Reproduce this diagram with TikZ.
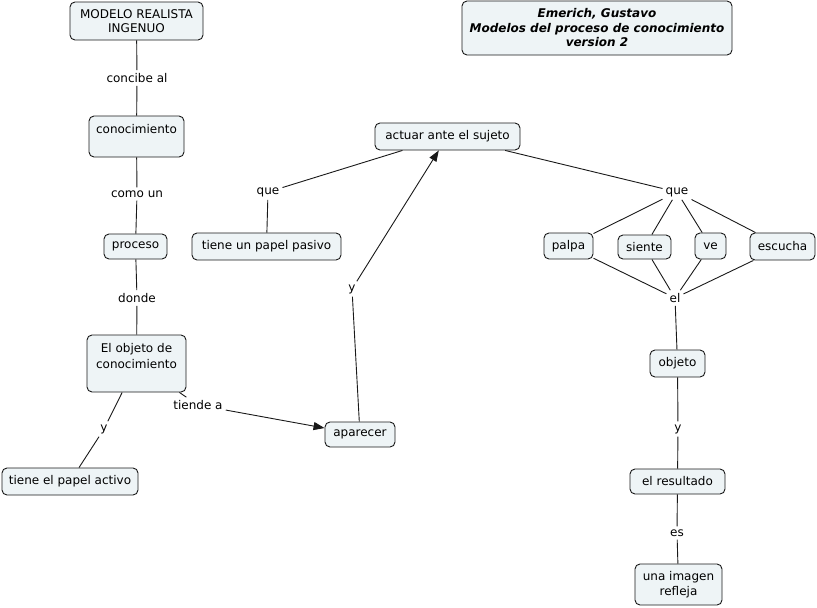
\documentclass[tikz,border=0pt]{standalone}
\usepackage{fontspec}
\setmainfont{DejaVu Sans}
\usetikzlibrary{arrows.meta}
\definecolor{cfill}{RGB}{238,244,246}
\definecolor{cline}{RGB}{25,25,25}
\begin{document}
\begin{tikzpicture}[x=1pt,y=-1pt,
  concept/.style={draw=cline, rounded corners=5pt, fill=cfill, inner sep=0pt, align=center,
    font=\fontsize{12}{14.5}\selectfont, line width=0.9pt},
  lab/.style={inner sep=3pt, font=\fontsize{12}{14.5}\selectfont},
  conn/.style={line width=0.9pt, draw=cline},
  arr/.style={conn, -{Triangle[length=11pt,width=8pt]}}]
\useasboundingbox (0,0) rectangle (817,608);
% concepts
\node[concept, minimum width=133, minimum height=38] (m) at (136.5,21) {MODELO REALISTA\\INGENUO};
\node[concept, minimum width=270, minimum height=54, font=\fontsize{12}{14.5}\selectfont\bfseries\itshape] (t) at (597,28) {Emerich, Gustavo\\Modelos del proceso de conocimiento\\version 2};
\node[concept, minimum width=95, minimum height=41] (c) at (136.5,136.5) {conocimiento\\\mbox{}};
\node[concept, minimum width=63, minimum height=25] (p) at (135.5,246.5) {proceso};
\node[concept, minimum width=99, minimum height=57, font=\fontsize{12}{16}\selectfont] (o) at (136.5,363.5) {El objeto de\\conocimiento\\\mbox{}};
\node[concept, minimum width=136, minimum height=27] (ta) at (70,481.5) {tiene el papel activo};
\node[concept, minimum width=70, minimum height=25] (ap) at (360,434.5) {aparecer};
\node[concept, minimum width=145, minimum height=27] (ac) at (447.5,136.5) {actuar ante el sujeto};
\node[concept, minimum width=149, minimum height=27] (tp) at (266.5,246.5) {tiene un papel pasivo};
\node[concept, minimum width=49, minimum height=26] (pa) at (568.5,246) {palpa};
\node[concept, minimum width=53, minimum height=24] (si) at (644.5,247) {siente};
\node[concept, minimum width=31, minimum height=26] (ve) at (710.5,246) {ve};
\node[concept, minimum width=65, minimum height=27] (es) at (782.5,246.5) {escucha};
\node[concept, minimum width=55, minimum height=27] (ob) at (677.5,363.5) {objeto};
\node[concept, minimum width=95, minimum height=25] (er) at (677.5,481.5) {el resultado};
\node[concept, minimum width=87, minimum height=41] (ui) at (678.5,584.5) {una imagen\\refleja};
% linking labels
\node[lab] (l1) at (137,78) {concibe al};
\node[lab] (l2) at (137,194) {como un};
\node[lab] (l3) at (137,298) {donde};
\node[lab] (l4) at (198,405) {tiende a};
\node[lab] (l5) at (104,429) {y};
\node[lab] (l6) at (352,289) {y};
\node[lab] (l7) at (268,192) {que};
\node[lab] (l8) at (677,192) {que};
\node[lab] (l9) at (675,298) {el};
\node[lab] (l10) at (678,429) {y};
\node[lab] (l11) at (677,533) {es};
% connectors
\draw[conn] (m) -- (l1); \draw[conn] (l1) -- (c);
\draw[conn] (c) -- (l2); \draw[conn] (l2) -- (p);
\draw[conn] (p) -- (l3); \draw[conn] (l3) -- (o);
\draw[conn] (o) -- (l4); \draw[arr] (l4) -- (ap);
\draw[conn] (o) -- (l5); \draw[conn] (l5) -- (ta);
\draw[conn] (ap) -- (l6); \draw[arr] (l6) -- (ac);
\draw[conn] (ac) -- (l7); \draw[conn] (l7) -- (tp);
\draw[conn] (ac) -- (l8);
\draw[conn] (l8) -- (pa); \draw[conn] (l8) -- (si);
\draw[conn] (l8) -- (ve); \draw[conn] (l8) -- (es);
\draw[conn] (pa) -- (l9); \draw[conn] (si) -- (l9);
\draw[conn] (ve) -- (l9); \draw[conn] (es) -- (l9);
\draw[conn] (l9) -- (ob); \draw[conn] (ob) -- (l10);
\draw[conn] (l10) -- (er); \draw[conn] (er) -- (l11);
\draw[conn] (l11) -- (ui);
\end{tikzpicture}
\end{document}
